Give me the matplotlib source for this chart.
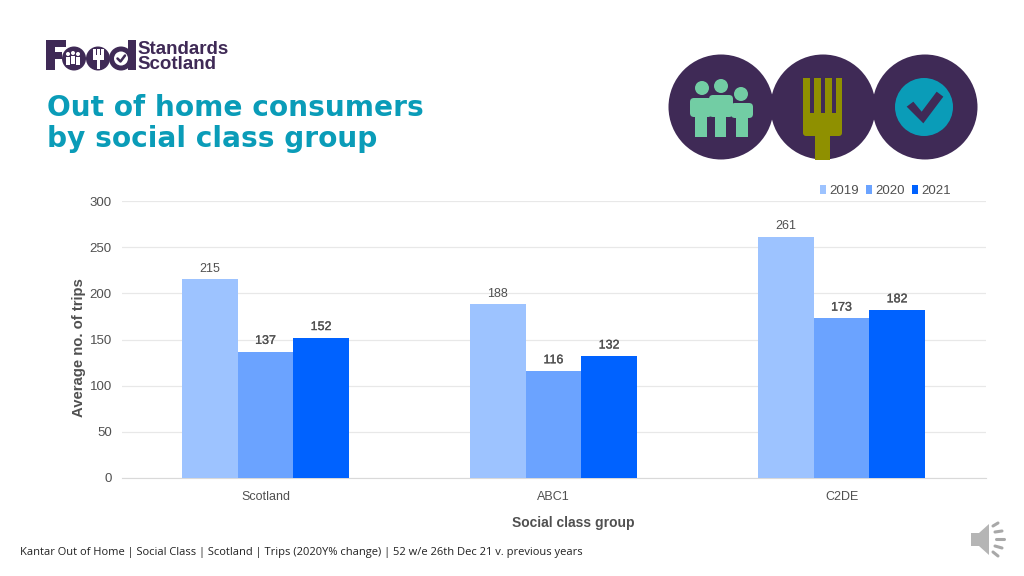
#!/usr/bin/env python3
"""Out of home consumers by social class group - slide recreation."""
import matplotlib
matplotlib.use("Agg")
import matplotlib.pyplot as plt
import matplotlib.patheffects as pe
import numpy as np
from matplotlib.patches import Circle, FancyBboxPatch, Polygon, Rectangle

PURPLE = "#3f2a56"
TEAL = "#0a9cb8"
MINT = "#72cda4"
OLIVE = "#8f9000"
TEXT = "#505050"
GRID = "#e8e8e8"

categories = ["Scotland", "ABC1", "C2DE"]
years = ["2019", "2020", "2021"]
values_2019 = [215, 188, 261]
values_2020 = [137, 116, 173]
values_2021 = [152, 132, 182]
bar_colors = ["#9dc3ff", "#6ba3ff", "#0062ff"]
yticks = [0, 50, 100, 150, 200, 250, 300]

W, H = 1024, 576
fig = plt.figure(figsize=(W / 100, H / 100), dpi=100, facecolor="white")
plt.rcParams["font.family"] = ["Liberation Sans", "DejaVu Sans"]

# overlay in pixel coords for the slide furniture
deco = fig.add_axes([0, 0, 1, 1])
deco.set_xlim(0, W)
deco.set_ylim(H, 0)
deco.axis("off")


def box(x0, y0, x1, y1, color):
    deco.add_patch(Rectangle((x0, y0), x1 - x0, y1 - y0, color=color, lw=0))


def rbox(x0, y0, x1, y1, r, color):
    deco.add_patch(FancyBboxPatch((x0, y0), x1 - x0, y1 - y0, color=color, lw=0,
                                  boxstyle=f"round,pad=0,rounding_size={r}"))


# logo wordmark, F + three o shapes + d stem
box(46, 40, 55, 70, PURPLE)
box(46, 40, 66, 47, PURPLE)
box(46, 52, 62, 59, PURPLE)
for cx in (74, 98, 121):
    deco.add_patch(Circle((cx, 58.5), 12, color=PURPLE, lw=0))
box(128, 40, 136, 70, PURPLE)
for cx, cy in ((68, 54), (73, 53), (78, 54)):
    deco.add_patch(Circle((cx, cy), 2, color="white", lw=0))
    box(cx - 2, cy + 3, cx + 2, cy + 11, "white")
box(93, 49, 104, 60, "white")
for x in (95.5, 99.5):
    box(x, 49, x + 1.5, 55, PURPLE)
box(97, 60, 100, 69, "white")
deco.add_patch(Circle((121, 58.5), 7, color="white", lw=0))
deco.plot([117.5, 120.5, 125], [58.5, 61.5, 55.5], color=PURPLE, lw=1.8, solid_capstyle="round")
deco.text(137, 54, "Standards", fontsize=13.5, fontweight="bold", color=PURPLE, va="baseline", ha="left")
deco.text(137, 69, "Scotland", fontsize=13.5, fontweight="bold", color=PURPLE, va="baseline", ha="left")

# title
deco.text(47, 108, "Out of home consumers", fontsize=20.2, fontweight="bold", color=TEAL,
          family="DejaVu Sans", va="center", ha="left")
deco.text(47, 139, "by social class group", fontsize=20.2, fontweight="bold", color=TEAL,
          family="DejaVu Sans", va="center", ha="left")

# three round icons
for cx in (721, 823, 925):
    deco.add_patch(Circle((cx, 107), 52.5, color=PURPLE, lw=0))

# people
for cx, cy in ((702, 88), (721, 86), (741, 94)):
    deco.add_patch(Circle((cx, cy), 7, color=MINT, lw=0))
rbox(690, 98, 712, 117, 4, MINT)
rbox(709, 95, 733, 117, 4, MINT)
rbox(731, 103, 753, 118, 4, MINT)
box(695, 112, 707, 137, MINT)
box(715, 112, 726, 137, MINT)
box(736, 112, 748, 137, MINT)

# fork
rbox(803, 100, 842, 136, 3, OLIVE)
for x0, x1 in ((803, 810), (814, 821), (825, 832), (836, 842)):
    box(x0, 78, x1, 113, OLIVE)
for x0, x1 in ((810, 814), (821, 825), (832, 836)):
    box(x0, 78, x1, 113, PURPLE)
box(815, 134, 830, 160, OLIVE)

# tick badge
deco.add_patch(Circle((924, 107), 29, color=TEAL, lw=0))
tick_x = [740, 760, 785, 830, 850, 790]
tick_y = [185, 170, 200, 140, 155, 235]
deco.add_patch(Polygon([(660 + a / 3, 45 + b / 3) for a, b in zip(tick_x, tick_y)],
                       closed=True, color=PURPLE, lw=0))

# footer and speaker
deco.text(20, 553, "Kantar Out of Home | Social Class | Scotland | Trips (2020Y% change) | 52 w/e 26th Dec 21 v. previous years",
          fontsize=8.0, color="#222222", family="Open Sans", va="center", ha="left")
deco.add_patch(Polygon([(971, 533), (979, 533), (989, 524), (989, 555), (979, 546), (971, 546)],
                       closed=True, color="#b5b5b5", lw=0))
for x0, y0, x1, y1 in [(993, 526, 998, 523), (995, 532, 1002, 531), (996, 539, 1004, 539),
                       (995, 546, 1002, 548), (993, 552, 998, 556)]:
    deco.plot([x0, x1], [y0, y1], color="#a8a8a8", lw=2.2, solid_capstyle="round")

# chart
ax = fig.add_axes([121.5 / W, 1 - 478 / H, 864 / W, 277 / H], facecolor="none")
x = np.arange(len(categories))
bw = 0.193
series = [values_2019, values_2020, values_2021]
label_fx = [pe.withStroke(linewidth=0.2, foreground=TEXT)]
for i, (yr, vals, col) in enumerate(zip(years, series, bar_colors)):
    bars = ax.bar(x + (i - 1) * bw, vals, width=bw, color=col, label=yr, zorder=3)
    for bar, v in zip(bars, vals):
        ax.text(bar.get_x() + bar.get_width() / 2, v + 5, str(v), ha="center", va="bottom",
                fontsize=9, color=TEXT, zorder=4, path_effects=label_fx if i else None)

ax.set_xlim(-0.5, 2.5)
ax.set_ylim(0, 300)
ax.set_yticks(yticks)
ax.set_xticks(x, categories)
ax.grid(axis="y", color=GRID, linewidth=0.9, zorder=0)
ax.set_axisbelow(True)
for s in ("top", "right", "left"):
    ax.spines[s].set_visible(False)
ax.spines["bottom"].set_color("#d9d9d9")
ax.tick_params(length=0, labelsize=9.5, labelcolor=TEXT)
ax.tick_params(axis="x", pad=9, labelsize=9)
ax.tick_params(axis="y", pad=7)
ax.set_ylabel("Average no. of trips", fontsize=10.7, fontweight="bold", color=TEXT)
ax.yaxis.set_label_coords((79 - 121.5) / 864, (478 - 348) / 277)
ax.yaxis.label.set_va("center")
ax.set_xlabel("Social class group", fontsize=10, fontweight="bold", color=TEXT)
ax.xaxis.set_label_coords((573.5 - 121.5) / 864, -(523 - 478) / 277)
ax.xaxis.label.set_va("center")

ax.legend(loc="lower right", bbox_to_anchor=((951 - 121.5) / 864, 1.0 + 4 / 277), ncol=3, frameon=False, fontsize=9.5,
          labelcolor=TEXT, handlelength=0.45, handleheight=0.6, handletextpad=0.25, columnspacing=0.55,
          borderpad=0, borderaxespad=0)

fig.savefig("out.png", dpi=100, facecolor="white")
plt.close(fig)
